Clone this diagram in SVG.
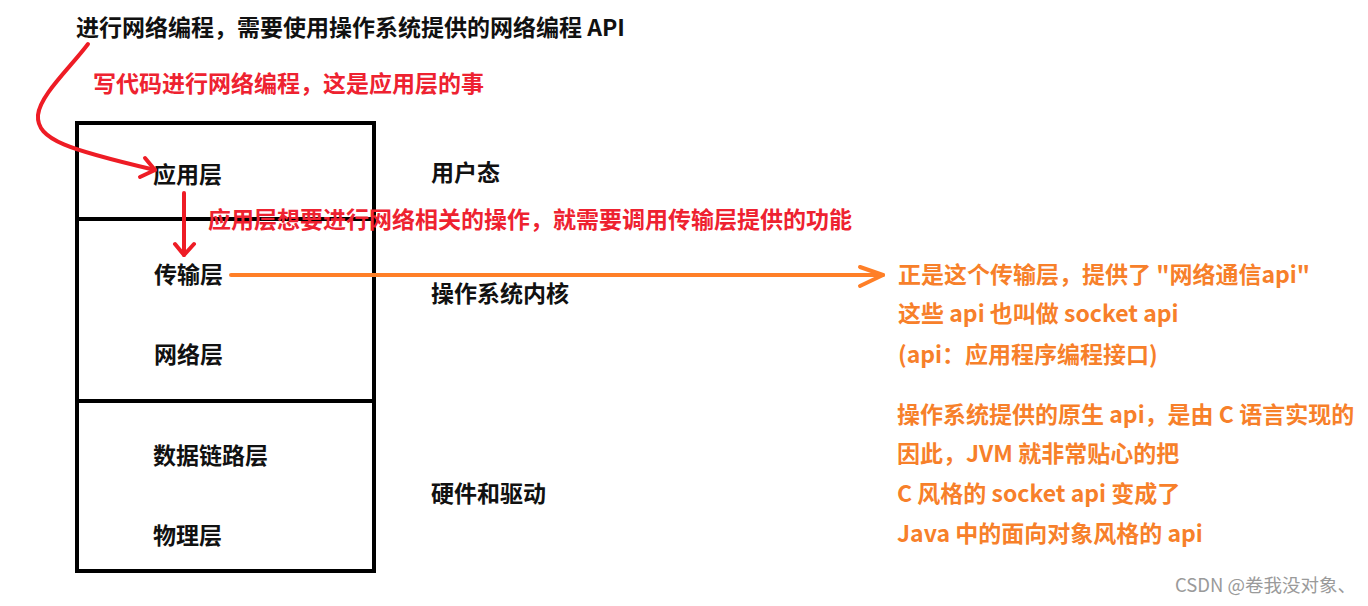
<svg xmlns="http://www.w3.org/2000/svg" width="1368" height="606" viewBox="0 0 1368 606">
<style>
  text { font-family: "Microsoft YaHei", "Noto Sans CJK SC", "Noto Sans", sans-serif; font-weight: bold; font-size: 23px; }
  .blk { fill: #111111; }
  .red { fill: #EE2230; }
  .org { fill: #F7802A; }
  .wm { fill: #9a9a9a; font-weight: normal; font-size: 18.5px; }
  .box { fill: none; stroke: #000; stroke-width: 4; }
  .redline { fill: none; stroke: #EE1C25; stroke-width: 4; stroke-linecap: round; stroke-linejoin: round; }
  .orgline { fill: none; stroke: #FF7F27; stroke-width: 4; stroke-linecap: round; stroke-linejoin: round; }
</style>
<rect width="1368" height="606" fill="#ffffff"/>

<g id="stack">
  <rect class="box" x="77" y="123" width="297" height="448"/>
  <line class="box" x1="77" y1="219" x2="374" y2="219"/>
  <line class="box" x1="77" y1="401" x2="376" y2="401"/>
</g>

<g id="title"><text class="blk" x="76" y="36">进行网络编程，需要使用操作系统提供的网络编程 API</text></g>
<g id="note-app"><text class="red" x="93" y="92">写代码进行网络编程，这是应用层的事</text></g>
<g id="note-call"><text class="red" x="208" y="228">应用层想要进行网络相关的操作，就需要调用传输层提供的功能</text></g>

<g id="layer-app"><text class="blk" x="153" y="183">应用层</text></g>
<g id="layer-transport"><text class="blk" x="154" y="283">传输层</text></g>
<g id="layer-network"><text class="blk" x="154" y="363">网络层</text></g>
<g id="layer-datalink"><text class="blk" x="153" y="464">数据链路层</text></g>
<g id="layer-physical"><text class="blk" x="153" y="544">物理层</text></g>

<g id="zone-user"><text class="blk" x="431" y="181">用户态</text></g>
<g id="zone-kernel"><text class="blk" x="431" y="302">操作系统内核</text></g>
<g id="zone-hw"><text class="blk" x="431" y="502">硬件和驱动</text></g>

<g id="note-socket">
  <text class="org" x="898" y="283">正是这个传输层，提供了 "网络通信api"</text>
  <text class="org" x="898" y="322">这些 api 也叫做 socket api</text>
  <text class="org" x="898" y="363">(api：应用程序编程接口)</text>
</g>
<g id="note-jvm">
  <text class="org" x="897" y="423">操作系统提供的原生 api，是由 C 语言实现的</text>
  <text class="org" x="897" y="462">因此，JVM 就非常贴心的把</text>
  <text class="org" x="897" y="502">C 风格的 socket api 变成了</text>
  <text class="org" x="897" y="542">Java 中的面向对象风格的 api</text>
</g>

<g id="connectors">
  <path class="redline" d="M88,44 C70,68 40,95 38,115 C36,140 70,150 155,170"/>
  <path class="redline" d="M145,158 L155,170 L140,177"/>
  <path class="redline" d="M184,193 L184,255"/>
  <path class="redline" d="M175,244 L184,255 L194,244"/>
  <path class="orgline" d="M231,275 L883,275"/>
  <path class="orgline" d="M860,267 L883,275 L860,286"/>
</g>

<text class="wm" x="1175" y="592">CSDN @卷我没对象、</text>
</svg>
